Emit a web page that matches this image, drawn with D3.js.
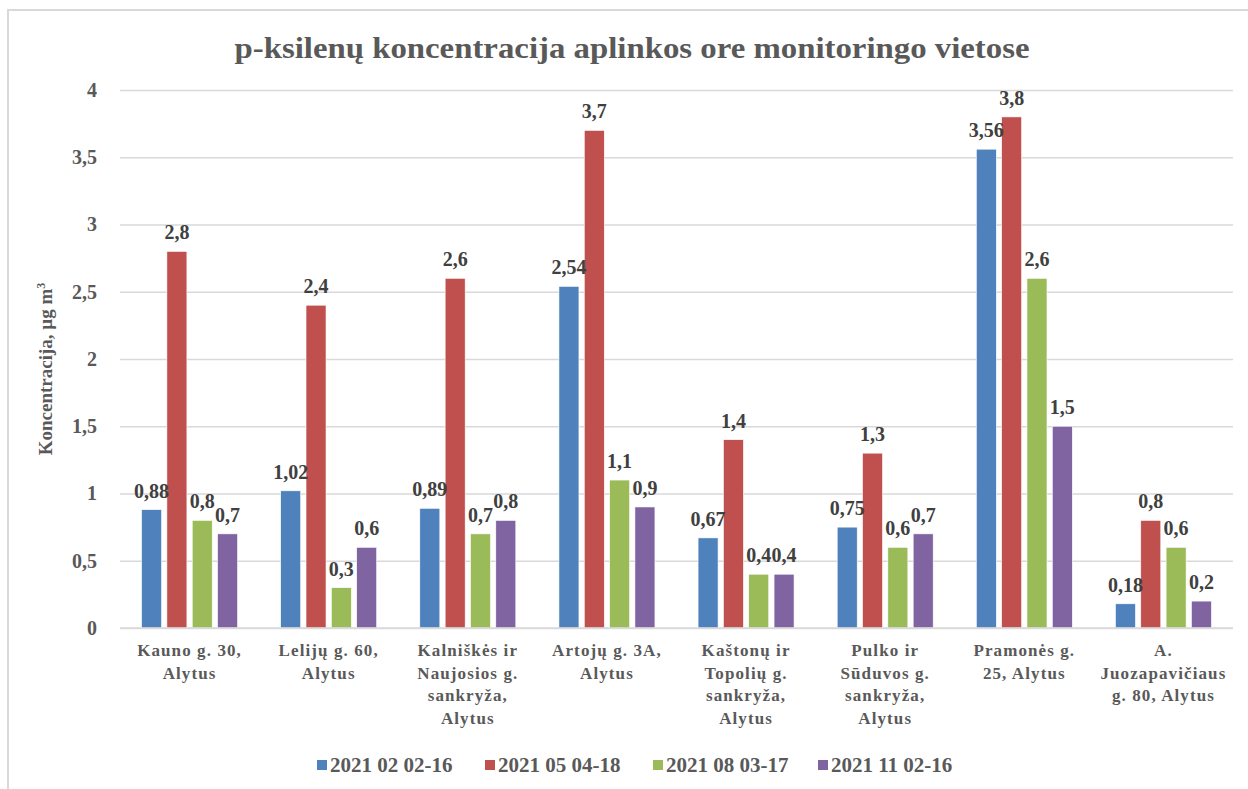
<!DOCTYPE html>
<html>
<head>
<meta charset="utf-8">
<script src="https://cdn.jsdelivr.net/npm/d3@7"></script>
<style>
  html, body { margin: 0; padding: 0; background: #fff; }
</style>
</head>
<body>
<div id="chart"></div>
<script>
// Monitoring sites (wrapped as in the source chart)
const sites = [
    ['Kauno g. 30,', 'Alytus'],
    ['Lelijų g. 60,', 'Alytus'],
    ['Kalniškės ir', 'Naujosios g.', 'sankryža,', 'Alytus'],
    ['Artojų g. 3A,', 'Alytus'],
    ['Kaštonų ir', 'Topolių g.', 'sankryža,', 'Alytus'],
    ['Pulko ir', 'Sūduvos g.', 'sankryža,', 'Alytus'],
    ['Pramonės g.', '25, Alytus'],
    ['A.', 'Juozapavičiaus', 'g. 80, Alytus']
];

const periods = ['2021 02 02-16', '2021 05 04-18', '2021 08 03-17', '2021 11 02-16'];

const feb = [0.88, 1.02, 0.89, 2.54, 0.67, 0.75, 3.56, 0.18];
const may = [2.8, 2.4, 2.6, 3.7, 1.4, 1.3, 3.8, 0.8];
const aug = [0.8, 0.3, 0.7, 1.1, 0.4, 0.6, 2.6, 0.6];
const nov = [0.7, 0.6, 0.8, 0.9, 0.4, 0.7, 1.5, 0.2];

const yTicks = [0, 0.5, 1, 1.5, 2, 2.5, 3, 3.5, 4];

const colors = ['#4F81BD', '#C0504D', '#9BBB59', '#8064A2'];

const FONT = '"Liberation Serif", "Times New Roman", Tinos, "DejaVu Serif", serif';

const width = 1248, height = 789;
const margin = { top: 90, right: 15, bottom: 161, left: 120 };

const svg = d3.select('#chart')
    .append('svg')
    .attr('width', width)
    .attr('height', height)
    .style('font-family', FONT);

// chart border (cut off at right and bottom like the screenshot)
svg.append('rect')
    .attr('x', 8).attr('y', 10)
    .attr('width', 1400).attr('height', 900)
    .attr('fill', 'none')
    .attr('stroke', '#d9d9d9')
    .attr('stroke-width', 2);

const lt = d3.formatLocale({ decimal: ',', thousands: ' ', grouping: [3], currency: ['', ''] });
const fmt = lt.format('~g');

const series = [feb, may, aug, nov];
const rows = sites.map((s, i) => ({
    key: i,
    lines: s,
    values: series.map((arr, j) => ({ period: periods[j], value: arr[i] }))
}));

const x0 = d3.scaleBand()
    .domain(rows.map(d => d.key))
    .range([margin.left, width - margin.right])
    .padding(0);

const x1 = d3.scaleBand()
    .domain(periods)
    .range([x0.bandwidth() * 0.155, x0.bandwidth() * 0.845])
    .paddingInner(0.21);

const y = d3.scaleLinear()
    .domain([0, 4])
    .range([height - margin.bottom, margin.top]);

const color = d3.scaleOrdinal().domain(periods).range(colors);

// Gridlines
svg.append('g')
    .attr('transform', `translate(${margin.left},0)`)
    .call(d3.axisLeft(y).tickValues(yTicks).tickSize(-(width - margin.left - margin.right)).tickFormat(''))
    .call(g => g.select('.domain').remove())
    .call(g => g.selectAll('line').attr('stroke', '#d9d9d9').attr('stroke-width', 1.5));

// Y tick labels
svg.append('g')
    .attr('transform', `translate(${margin.left - 20},0)`)
    .call(d3.axisLeft(y).tickValues(yTicks).tickSize(0).tickFormat(fmt))
    .call(g => g.select('.domain').remove())
    .call(g => g.attr('font-family', FONT))
    .call(g => g.selectAll('text')
        .attr('font-family', FONT)
        .attr('font-size', 20)
        .attr('font-weight', 'bold')
        .attr('fill', '#595959'));

// Bars
const group = svg.append('g')
    .selectAll('g')
    .data(rows)
    .join('g')
    .attr('transform', d => `translate(${x0(d.key)},0)`);

group.selectAll('rect')
    .data(d => d.values)
    .join('rect')
    .attr('x', d => x1(d.period))
    .attr('y', d => y(d.value))
    .attr('width', x1.bandwidth())
    .attr('height', d => y(0) - y(d.value))
    .attr('fill', d => color(d.period))
    .attr('stroke', '#fff')
    .attr('stroke-width', 0.6);

// Data labels
group.selectAll('text.val')
    .data(d => d.values)
    .join('text')
    .attr('class', 'val')
    .attr('x', d => x1(d.period) + x1.bandwidth() / 2)
    .attr('y', d => y(d.value) - 12)
    .attr('text-anchor', 'middle')
    .attr('font-family', FONT)
    .attr('font-size', 20)
    .attr('font-weight', 'bold')
    .attr('fill', '#404040')
    .text(d => fmt(d.value));

// X axis baseline
svg.append('line')
    .attr('x1', margin.left).attr('x2', width - margin.right)
    .attr('y1', y(0)).attr('y2', y(0))
    .attr('stroke', '#d9d9d9')
    .attr('stroke-width', 1.5);

// X category labels
const xl = svg.append('g')
    .selectAll('text')
    .data(rows)
    .join('text')
    .attr('x', d => x0(d.key) + x0.bandwidth() / 2)
    .attr('y', y(0) + 28)
    .attr('text-anchor', 'middle')
    .attr('font-family', FONT)
    .attr('font-size', 17)
    .attr('font-weight', 'bold')
    .attr('letter-spacing', 1.1)
    .attr('fill', '#595959');

xl.selectAll('tspan')
    .data(d => d.lines)
    .join('tspan')
    .attr('x', function() { return d3.select(this.parentNode).attr('x'); })
    .attr('dy', (d, i) => i === 0 ? 0 : 22.5)
    .text(d => d);

// Y axis title
const yt = svg.append('text')
    .attr('transform', `translate(52,${(margin.top + y(0)) / 2 + 10}) rotate(-90)`)
    .attr('text-anchor', 'middle')
    .attr('font-family', FONT)
    .attr('font-size', 19)
    .attr('font-weight', 'bold')
    .attr('fill', '#595959');
yt.append('tspan').text('Koncentracija, µg m');
yt.append('tspan').attr('font-size', 12).attr('dy', -7).text('3');

// Title
svg.append('text')
    .attr('x', 632)
    .attr('y', 58)
    .attr('text-anchor', 'middle')
    .attr('font-family', FONT)
    .attr('font-size', 30)
    .attr('font-weight', 'bold')
    .attr('fill', '#595959')
    .attr('textLength', 795)
    .attr('lengthAdjust', 'spacingAndGlyphs')
    .text('p-ksilenų koncentracija aplinkos ore monitoringo vietose');

// Legend
const legendX = [317, 485, 653, 818];
const legend = svg.append('g')
    .selectAll('g')
    .data(periods)
    .join('g')
    .attr('transform', (d, i) => `translate(${legendX[i]},765)`);

legend.append('rect')
    .attr('x', 0).attr('y', -5)
    .attr('width', 10).attr('height', 10)
    .attr('fill', d => color(d));

legend.append('text')
    .attr('x', 13)
    .attr('y', 7)
    .attr('font-family', FONT)
    .attr('font-size', 21)
    .attr('font-weight', 'bold')
    .attr('fill', '#595959')
    .text(d => d);
</script>
</body>
</html>
